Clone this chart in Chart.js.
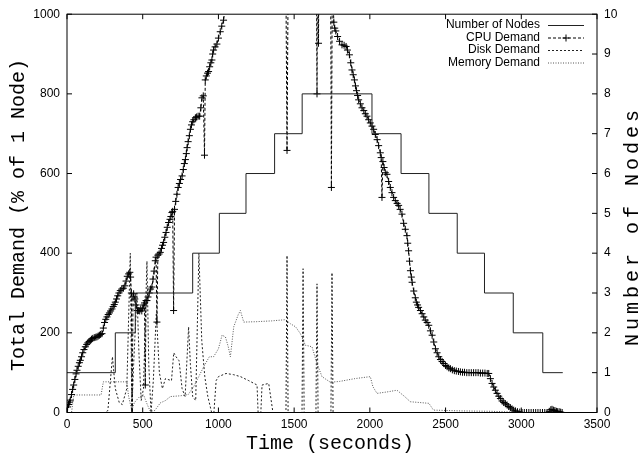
<!DOCTYPE html>
<html>
<head>
<meta charset="utf-8">
<script src="https://cdn.jsdelivr.net/npm/chart.js@4.4.0/dist/chart.umd.min.js"></script>
<style>
  body { margin: 0; background: #fff; }
  canvas { display: block; }
</style>
</head>
<body>
<canvas id="grafica" width="644" height="456"></canvas>
<script>
// --- Data ---
const ticksX = [0, 500, 1000, 1500, 2000, 2500, 3000, 3500];
const ticksDemanda = [0, 200, 400, 600, 800, 1000];
const ticksNodos = [0, 1, 2, 3, 4, 5, 6, 7, 8, 9, 10];

// Number of nodes (step changes)
const tiempoNodos = [0, 319, 451, 830, 1006, 1182, 1371, 1553, 2014, 2206, 2390, 2577, 2757, 2947, 3142, 3274];
const numNodos = [1, 2, 3, 4, 5, 6, 7, 8, 7, 6, 5, 4, 3, 2, 1, 1];

// CPU demand (values above 1000 run off the top of the plot)
const tiempoCpu = [
    0, 4, 10, 16, 22, 30, 37, 44, 52, 60, 66, 74, 82, 88, 96, 104, 112, 121, 130, 138, 146, 154, 162, 170, 180, 190, 198,
    206, 214, 222, 231, 240, 248, 256, 264, 272, 280, 288, 297, 305, 312, 319, 327, 335, 343, 352, 362, 372, 382, 390,
    398, 407, 415, 420, 425, 430, 436, 440, 448, 456, 465, 473, 480, 487, 494, 500, 507, 512, 517, 522, 528, 535, 543,
    552, 561, 568, 575, 583, 588, 594, 600, 608, 616, 624, 631, 638, 646, 654, 662, 671, 680, 686, 693, 698, 704, 710,
    718, 726, 734, 742, 750, 760, 768, 775, 782, 788, 793, 800, 808, 815, 822, 830, 838, 848, 856, 866, 876, 884, 891,
    900, 908, 913, 920, 928, 935, 942, 950, 957, 962, 968, 978, 990, 1000, 1012, 1022, 1034, 1050, 1100, 1200, 1300,
    1440, 1453, 1466, 1600, 1645, 1651, 1656, 1661, 1666, 1740, 1746, 1752, 1762, 1768, 1775, 1787, 1800, 1816, 1830,
    1843, 1852, 1865, 1874, 1882, 1890, 1898, 1905, 1912, 1919, 1926, 1937, 1948, 1960, 1970, 1981, 1992, 2003, 2014,
    2025, 2036, 2048, 2058, 2069, 2075, 2080, 2086, 2094, 2102, 2113, 2124, 2135, 2146, 2157, 2168, 2180, 2190, 2200,
    2212, 2223, 2234, 2245, 2250, 2256, 2262, 2268, 2274, 2279, 2290, 2300, 2307, 2315, 2322, 2334, 2345, 2356, 2366,
    2378, 2389, 2400, 2411, 2422, 2433, 2444, 2455, 2466, 2477, 2488, 2500, 2510, 2521, 2532, 2545, 2558, 2571, 2585,
    2598, 2612, 2625, 2640, 2655, 2670, 2685, 2700, 2715, 2730, 2745, 2760, 2775, 2785, 2796, 2807, 2818, 2829, 2840,
    2851, 2862, 2873, 2884, 2895, 2906, 2917, 2928, 2939, 2950, 2962, 2975, 2990, 3005, 3020, 3035, 3050, 3065, 3080,
    3095, 3110, 3125, 3140, 3155, 3170, 3185, 3195, 3203, 3212, 3222, 3232, 3240, 3250, 3260, 3270
];
const cpuDemanda = [
    0, 14, 20, 26, 31, 45, 58, 69, 83, 97, 106, 116, 125, 131, 140, 150, 158, 165, 171, 175, 178, 181, 184, 186, 188, 189, 190,
    192, 194, 196, 198, 212, 226, 234, 240, 246, 250, 255, 260, 266, 271, 277, 285, 293, 300, 306, 310, 312, 318, 330,
    342, 348, 352, 340, 300, 0, 290, 298, 285, 270, 256, 256, 255, 260, 255, 262, 270, 275, 69, 281, 281, 290, 300,
    310, 315, 335, 355, 381, 390, 227, 395, 398, 402, 412, 420, 427, 440, 452, 465, 477, 485, 492, 502, 505, 256, 510,
    530, 548, 565, 575, 585, 594, 610, 625, 635, 650, 665, 680, 695, 711, 722, 730, 735, 740, 742, 744, 744, 765, 790,
    795, 646, 835, 845, 852, 856, 868, 878, 885, 900, 910, 918, 925, 940, 956, 970, 985, 1030, 1100, 1250, 1350,
    1400, 658, 1400, 1400, 1350, 800, 1350, 927, 1300, 1200, 565, 1100, 980, 965, 958, 944, 932, 923, 922,
    919, 910, 898, 878, 860, 848, 835, 820, 808, 796, 785, 775, 765, 758, 750, 744, 735, 727, 719,
    711, 698, 685, 670, 652, 640, 540, 630, 615, 602, 598, 580, 565, 552, 540, 532, 525, 520, 510,
    498, 475, 460, 444, 425, 406, 380, 356, 340, 327, 305, 288, 277, 270, 264, 256, 248, 240, 232,
    226, 219, 205, 194, 177, 160, 150, 140, 133, 128, 123, 118, 115, 112, 110, 107, 105, 104, 103,
    102, 101, 101, 100, 100, 100, 100, 100, 100, 99, 99, 99, 98, 98, 85, 73, 64, 56, 48,
    41, 35, 29, 25, 22, 19, 15, 12, 9, 6, 4, 2, 1, 0, 0, 0, 0, 0, 0,
    0, 0, 0, 0, 0, 0, 3, 7, 8, 6, 5, 3, 2, 2, 1, 0
];

// Disk demand
const tiempoDisco = [
    0, 250, 270, 300, 319, 345, 365, 395, 418, 428, 440, 462, 475, 490, 505, 528, 540, 555, 570, 590, 610, 630, 650,
    690, 705, 720, 740, 760, 780, 803, 815, 830, 850, 871, 890, 910, 930, 955, 970, 985, 1000, 1050, 1100, 1146, 1200,
    1255, 1262, 1280, 1288, 1332, 1360, 1446, 1453, 1460, 1552, 1559, 1566, 1644, 1651, 1658, 1743, 1750, 1757, 3274
];
const discoDemanda = [
    0, 0, 5, 140, 60, 25, 20, 60, 400, 0, 120, 300, 150, 30, 60, 380, 120, 0, 80, 250, 100, 60, 85,
    80, 150, 140, 130, 60, 40, 215, 120, 40, 30, 400, 180, 90, 40, 0, 0, 80, 90, 98, 95, 90, 80,
    69, 0, 0, 69, 73, 0, 0, 394, 0, 0, 361, 0, 0, 323, 0, 0, 351, 0, 0
];

// Memory demand
const tiempoMemoria = [
    0, 30, 45, 225, 240, 395, 407, 428, 445, 480, 506, 530, 550, 580, 616, 650, 683, 750, 800, 837, 870, 903, 940,
    968, 1000, 1024, 1046, 1065, 1079, 1101, 1130, 1145, 1167, 1250, 1350, 1442, 1475, 1510, 1541, 1574, 1618, 1651,
    1684, 1739, 1800, 1900, 1960, 2003, 2020, 2047, 2120, 2179, 2230, 2267, 2330, 2390, 2420, 2600, 2800, 2950, 3000, 3274
];
const memoriaDemanda = [
    0, 0, 44, 44, 77, 77, 40, 5, 25, 40, 44, 20, 3, 5, 24, 30, 40, 42, 45, 65, 90, 115, 140,
    140, 160, 194, 190, 165, 140, 215, 245, 256, 227, 228, 230, 233, 223, 215, 198, 169, 165, 123,
    90, 76, 78, 85, 88, 90, 65, 48, 52, 56, 40, 27, 25, 23, 6, 4, 3, 1, 0, 0
];

const fuenteTicks = { family: '"Liberation Sans", Arial, sans-serif', size: 12 };
const fuenteTitulo = '20px "Liberation Mono", "Courier New", monospace';

function aPuntos(xs, ys) {
    return xs.map((x, i) => ({ x: x, y: ys[i] }));
}

// --- Frame, inward ticks, axis titles and legend ---
const decorado = {
    id: 'decorado',
    afterDatasetsDraw(chart) {
        const { ctx, chartArea: a, scales } = chart;
        ctx.save();
        ctx.strokeStyle = '#000';
        ctx.lineWidth = 1;
        ctx.strokeRect(a.left, a.top, a.right - a.left, a.bottom - a.top);
        ctx.beginPath();
        ticksX.forEach(v => {
            const px = scales.x.getPixelForValue(v);
            ctx.moveTo(px, a.bottom); ctx.lineTo(px, a.bottom - 5);
            ctx.moveTo(px, a.top); ctx.lineTo(px, a.top + 5);
        });
        ticksDemanda.forEach(v => {
            const py = scales.y.getPixelForValue(v);
            ctx.moveTo(a.left, py); ctx.lineTo(a.left + 5, py);
        });
        ticksNodos.forEach(v => {
            const py = scales.y2.getPixelForValue(v);
            ctx.moveTo(a.right, py); ctx.lineTo(a.right - 5, py);
        });
        ctx.stroke();
        ctx.restore();
    },
    afterDraw(chart) {
        const { ctx } = chart;
        ctx.save();
        ctx.fillStyle = '#000';
        ctx.font = fuenteTitulo;
        ctx.textAlign = 'center';
        ctx.textBaseline = 'middle';

        ctx.fillText('Time (seconds)', 330, 444);

        ctx.save();
        ctx.translate(19, 215);
        ctx.rotate(-Math.PI / 2);
        ctx.fillText('Total Demand (% of 1 Node)', 0, 0);
        ctx.restore();

        ctx.save();
        ctx.translate(633, 226);
        ctx.rotate(-Math.PI / 2);
        ctx.letterSpacing = '4px';
        ctx.fillText('Number of Nodes', 0, 0);
        ctx.restore();

        // Legend, text right-aligned with the line sample after it
        ctx.font = '12px "Liberation Sans", Arial, sans-serif';
        ctx.textAlign = 'right';
        chart.data.datasets.forEach((ds, i) => {
            const y = 25 + i * 12.5;
            ctx.fillText(ds.label, 540, y);
            ctx.save();
            ctx.strokeStyle = ds.borderColor;
            ctx.lineWidth = 1;
            ctx.setLineDash(ds.borderDash || []);
            ctx.beginPath();
            ctx.moveTo(548, y + 0.5);
            ctx.lineTo(584, y + 0.5);
            ctx.stroke();
            if (ds.pointStyle === 'cross') {
                ctx.setLineDash([]);
                ctx.beginPath();
                ctx.moveTo(566, y - 3); ctx.lineTo(566, y + 4);
                ctx.moveTo(562.5, y + 0.5); ctx.lineTo(569.5, y + 0.5);
                ctx.stroke();
            }
            ctx.restore();
        });
        ctx.restore();
    }
};

function crearGrafica() {
    const ctx = document.getElementById('grafica').getContext('2d');
    const etiqueta = v => String(v);
    return new Chart(ctx, {
        type: 'line',
        data: {
            datasets: [
                {
                    label: 'Number of Nodes',
                    data: aPuntos(tiempoNodos, numNodos),
                    yAxisID: 'y2',
                    stepped: true,
                    borderColor: '#222',
                    borderWidth: 1,
                    pointRadius: 0
                },
                {
                    label: 'CPU Demand',
                    data: aPuntos(tiempoCpu, cpuDemanda),
                    yAxisID: 'y',
                    borderColor: '#000',
                    borderWidth: 1,
                    borderDash: [3, 2],
                    pointStyle: 'cross',
                    pointRadius: 3.5,
                    pointBorderWidth: 1,
                    pointBorderColor: '#000'
                },
                {
                    label: 'Disk Demand',
                    data: aPuntos(tiempoDisco, discoDemanda),
                    yAxisID: 'y',
                    borderColor: '#222',
                    borderWidth: 1,
                    borderDash: [2, 2],
                    pointRadius: 0
                },
                {
                    label: 'Memory Demand',
                    data: aPuntos(tiempoMemoria, memoriaDemanda),
                    yAxisID: 'y',
                    borderColor: '#555',
                    borderWidth: 1,
                    borderDash: [1, 1.5],
                    pointRadius: 0
                }
            ]
        },
        options: {
            responsive: false,
            animation: false,
            events: [],
            layout: { padding: { top: 13, left: 0, right: 0, bottom: 0 } },
            plugins: {
                legend: { display: false },
                tooltip: { enabled: false }
            },
            scales: {
                x: {
                    type: 'linear',
                    min: 0,
                    max: 3500,
                    afterBuildTicks: s => { s.ticks = ticksX.map(v => ({ value: v })); },
                    ticks: { font: fuenteTicks, color: '#000', padding: 5, maxRotation: 0, callback: etiqueta },
                    grid: { display: false, drawTicks: false },
                    border: { display: false },
                    afterFit: s => { s.height = 43.5; }
                },
                y: {
                    position: 'left',
                    min: 0,
                    max: 1000,
                    afterBuildTicks: s => { s.ticks = ticksDemanda.map(v => ({ value: v })); },
                    ticks: { font: fuenteTicks, color: '#000', padding: 7, callback: etiqueta },
                    grid: { display: false, drawTicks: false },
                    border: { display: false },
                    afterFit: s => { s.width = 67; }
                },
                y2: {
                    position: 'right',
                    min: 0,
                    max: 10,
                    afterBuildTicks: s => { s.ticks = ticksNodos.map(v => ({ value: v })); },
                    ticks: { font: fuenteTicks, color: '#000', padding: 7, callback: etiqueta },
                    grid: { display: false, drawTicks: false },
                    border: { display: false },
                    afterFit: s => { s.width = 47; }
                }
            }
        },
        plugins: [decorado]
    });
}

crearGrafica();
</script>
</body>
</html>
